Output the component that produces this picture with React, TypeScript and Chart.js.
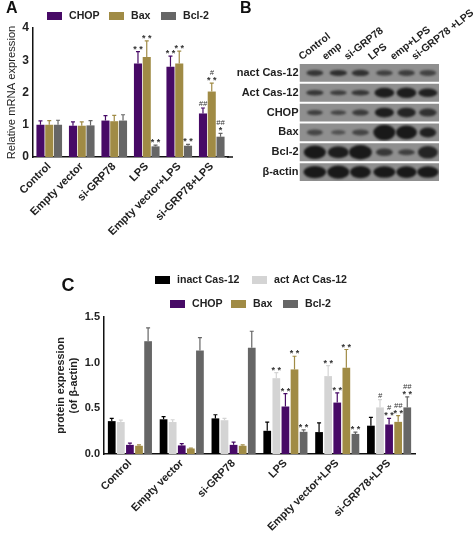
import React, { useEffect, useRef } from "react";
import { Chart, registerables } from "chart.js";

Chart.register(...registerables);

const FONT = "'Liberation Sans', Arial, sans-serif";
const PURPLE = "#470a66";
const GOLD = "#a08b45";
const GREY = "#666666";
const BLACK = "#000000";
const LIGHT = "#d4d4d4";

// Panel A
const groupsA = ["Control", "Empty vector", "si-GRP78", "LPS", "Empty vector+LPS", "si-GRP78+LPS"];
const chopA = [1.0, 0.97, 1.13, 2.9, 2.8, 1.35];
const baxA = [1.0, 0.97, 1.11, 3.1, 2.9, 2.03];
const bcl2A = [1.0, 0.98, 1.13, 0.33, 0.35, 0.63];
const chopAErr = [0.12, 0.12, 0.15, 0.37, 0.33, 0.17];
const baxAErr = [0.13, 0.12, 0.18, 0.5, 0.38, 0.26];
const bcl2AErr = [0.14, 0.15, 0.18, 0.04, 0.04, 0.1];
const chopAMarks = ["", "", "", "* *", "* *", "##"];
const baxAMarks = ["", "", "", "* *", "* *", "* *|#"];
const bcl2AMarks = ["", "", "", "* *", "* *", "*|##"];
const ticksA = [0, 1, 2, 3, 4];

// Panel B
const lanesB = ["Control", "emp", "si-GRP78", "LPS", "emp+LPS", "si-GRP78 +LPS"];
const rowsB = ["inact Cas-12", "Act Cas-12", "CHOP", "Bax", "Bcl-2", "β-actin"];
const laneCentres = [0.66, 1.67, 2.62, 3.65, 4.6, 5.52];
const bandDark = [
  [0.62, 0.72, 0.68, 0.5, 0.52, 0.46],
  [0.6, 0.52, 0.62, 0.95, 0.95, 0.9],
  [0.5, 0.42, 0.55, 0.95, 0.85, 0.68],
  [0.4, 0.25, 0.42, 1, 1, 0.9],
  [1, 0.95, 1, 0.6, 0.5, 0.85],
  [1, 1, 1, 1, 1, 1],
];
const bandThick = [
  [0.3, 0.3, 0.32, 0.28, 0.3, 0.3],
  [0.28, 0.24, 0.28, 0.5, 0.54, 0.44],
  [0.26, 0.24, 0.3, 0.5, 0.5, 0.4],
  [0.3, 0.24, 0.3, 0.78, 0.7, 0.5],
  [0.68, 0.6, 0.72, 0.38, 0.3, 0.64],
  [0.62, 0.66, 0.62, 0.58, 0.6, 0.58],
];
const bandWide = [
  [0.72, 0.75, 0.75, 0.72, 0.72, 0.72],
  [0.75, 0.72, 0.78, 0.85, 0.85, 0.82],
  [0.68, 0.68, 0.72, 0.82, 0.8, 0.76],
  [0.68, 0.62, 0.72, 0.95, 0.9, 0.72],
  [0.95, 0.9, 0.98, 0.72, 0.72, 0.85],
  [0.98, 0.95, 0.9, 0.95, 0.88, 0.92],
];

// Panel C
const groupsC = ["Control", "Empty vector", "si-GRP78", "LPS", "Empty vector+LPS", "si-GRP78+LPS"];
const inactC = [0.36, 0.38, 0.39, 0.254, 0.24, 0.31];
const actC = [0.35, 0.35, 0.37, 0.83, 0.853, 0.51];
const chopC = [0.1, 0.094, 0.1, 0.52, 0.563, 0.323];
const baxC = [0.09, 0.06, 0.09, 0.926, 0.944, 0.352];
const bcl2C = [1.235, 1.133, 1.162, 0.243, 0.22, 0.51];
const inactCErr = [0.03, 0.03, 0.04, 0.095, 0.1, 0.09];
const actCErr = [0.02, 0.025, 0.02, 0.06, 0.115, 0.085];
const chopCErr = [0.02, 0.02, 0.03, 0.14, 0.107, 0.067];
const baxCErr = [0.01, 0.005, 0.01, 0.144, 0.2, 0.068];
const bcl2CErr = [0.145, 0.142, 0.182, 0.022, 0.02, 0.115];
const inactCMarks = ["", "", "", "", "", ""];
const actCMarks = ["", "", "", "* *", "* *", "#"];
const chopCMarks = ["", "", "", "* *", "* *", "* *|#"];
const baxCMarks = ["", "", "", "* *", "* *", "* *|##"];
const bcl2CMarks = ["", "", "", "* *", "* *", "* *|##"];
const ticksC = [0, 0.5, 1, 1.5];

const rowLegend = {
  id: "rowLegend",
  afterDraw(chart: any, _a: any, opts: any) {
    const ctx = chart.ctx;
    ctx.save();
    ctx.font = `bold ${opts.size}px ${FONT}`;
    ctx.textBaseline = "middle";
    ctx.textAlign = "left";
    for (const it of opts.items) {
      const ds = chart.data.datasets[it.index];
      ctx.fillStyle = ds.backgroundColor;
      ctx.fillRect(it.x, it.y - 4, 15, 8);
      ctx.fillStyle = "#222";
      ctx.fillText(ds.label, it.x + 22, it.y);
    }
    ctx.restore();
  },
};

const errorMarks = {
  id: "errorMarks",
  afterDatasetsDraw(chart: any, _a: any, opts: any) {
    const ctx = chart.ctx;
    const y = chart.scales.y;
    chart.data.datasets.forEach((ds: any, i: number) => {
      const meta = chart.getDatasetMeta(i);
      meta.data.forEach((bar: any, j: number) => {
        const x = bar.x;
        const top = y.getPixelForValue(ds.data[j] + ds.errors[j]);
        const base = y.getPixelForValue(ds.data[j]);
        ctx.save();
        ctx.strokeStyle = ds.backgroundColor;
        ctx.lineWidth = 1.2;
        ctx.beginPath();
        ctx.moveTo(x, base);
        ctx.lineTo(x, top);
        ctx.moveTo(x - 2, top);
        ctx.lineTo(x + 2, top);
        ctx.stroke();
        const mark = ds.marks[j];
        if (mark) {
          ctx.fillStyle = "#333";
          ctx.textAlign = "center";
          ctx.textBaseline = "alphabetic";
          const py = top + opts.gap;
          mark.split("|").forEach((m: string, k: number) => {
            const star = m.includes("*");
            ctx.font = `${star ? "bold 9" : "italic 7.5"}px ${FONT}`;
            ctx.fillText(m, x, star ? py + 2 : k === 0 ? py : py - 6);
          });
        }
        ctx.restore();
      });
    });
  },
};

const letter = {
  id: "letter",
  afterDraw(chart: any, _a: any, opts: any) {
    const ctx = chart.ctx;
    ctx.save();
    ctx.font = `bold ${opts.size}px ${FONT}`;
    ctx.fillStyle = "#111";
    ctx.textBaseline = "alphabetic";
    ctx.textAlign = "left";
    ctx.fillText(opts.text, opts.x, opts.y);
    ctx.restore();
  },
};

const axisRun = {
  id: "axisRun",
  afterDatasetsDraw(chart: any, _a: any, opts: any) {
    const { ctx, chartArea } = chart;
    ctx.save();
    ctx.strokeStyle = "#111";
    ctx.lineWidth = 1.5;
    ctx.beginPath();
    ctx.moveTo(chartArea.right - 1, chartArea.bottom);
    ctx.lineTo(chartArea.right + opts.extra, chartArea.bottom);
    ctx.stroke();
    ctx.restore();
  },
};

const blots = {
  id: "blots",
  afterDatasetsDraw(chart: any) {
    const { ctx } = chart;
    const x = chart.scales.x;
    const y = chart.scales.y;
    ctx.save();
    rowsB.forEach((_r, r) => {
      const cy = y.getPixelForValue(r);
      const half = y.getPixelForValue(r + 0.5) - cy;
      const hw = half * 0.9;
      ctx.save();
      ctx.beginPath();
      ctx.rect(chart.chartArea.left, cy - hw, chart.chartArea.width, hw * 2);
      ctx.clip();
      laneCentres.forEach((c, l) => {
        const cx = x.getPixelForValue(c);
        const rx = (x.getPixelForValue(c + bandWide[r][l]) - cx) / 2;
        const ry = half * bandThick[r][l];
        const d = bandDark[r][l];
        const shade = Math.round(100 - 75 * d);
        ctx.filter = "blur(1.2px)";
        ctx.fillStyle = `rgb(${shade},${shade},${shade})`;
        ctx.beginPath();
        ctx.ellipse(cx, cy, rx, ry, 0, 0, Math.PI * 2);
        ctx.fill();
      });
      ctx.restore();
    });
    ctx.restore();
  },
};

function useChart(make: (c: HTMLCanvasElement) => Chart) {
  const ref = useRef<HTMLCanvasElement>(null);
  useEffect(() => {
    const chart = make(ref.current!);
    return () => chart.destroy();
  }, []);
  return ref;
}

const barSet = (label: string, data: number[], errors: number[], marks: string[], color: string, extra: any) => ({
  label,
  data,
  errors,
  marks,
  backgroundColor: color,
  ...extra,
});

function chartA(canvas: HTMLCanvasElement) {
  const shape = { barPercentage: 0.92, categoryPercentage: 0.81 };
  return new Chart(canvas, {
    type: "bar",
    data: {
      labels: groupsA,
      datasets: [
        barSet("CHOP", chopA, chopAErr, chopAMarks, PURPLE, shape),
        barSet("Bax", baxA, baxAErr, baxAMarks, GOLD, shape),
        barSet("Bcl-2", bcl2A, bcl2AErr, bcl2AMarks, GREY, shape),
      ] as any,
    },
    plugins: [rowLegend, errorMarks, letter, axisRun],
    options: {
      animation: false,
      responsive: false,
      layout: { padding: { top: 28, right: 9, left: 5, bottom: 0 } },
      plugins: {
        legend: { display: false },
        tooltip: { enabled: false },
        rowLegend: {
          size: 10.6,
          items: [
            { index: 0, x: 47, y: 16 },
            { index: 1, x: 109, y: 16 },
            { index: 2, x: 161, y: 16 },
          ],
        },
        errorMarks: { gap: -2 },
        letter: { text: "A", size: 16, x: 6, y: 13 },
        axisRun: { extra: 5 },
      } as any,
      scales: {
        x: {
          afterFit: (s: any) => { s.height = 240 - 157; },
          grid: { display: false, drawTicks: true, tickLength: 3, tickColor: "rgba(0,0,0,0)" },
          border: { color: "#111", width: 1.5 },
          ticks: {
            autoSkip: false,
            minRotation: 45,
            maxRotation: 45,
            padding: 0,
            color: "#222",
            font: { family: FONT, size: 11, weight: "bold" },
          },
        },
        y: {
          min: 0,
          max: 4,
          afterFit: (s: any) => { s.width = 28; },
          afterBuildTicks: (s: any) => { s.ticks = ticksA.map((value) => ({ value })); },
          grid: { display: false, drawTicks: true, tickLength: 4, tickColor: "#111", tickWidth: 1.2 },
          border: { color: "#111", width: 1.5 },
          title: {
            display: true,
            text: "Relative mRNA expression",
            color: "#222",
            padding: { top: 0, bottom: 1 },
            font: { family: FONT, size: 11.2 },
          },
          ticks: { padding: 0, color: "#222", font: { family: FONT, size: 12, weight: "bold" } },
        },
      },
    },
  } as any);
}

function chartB(canvas: HTMLCanvasElement) {
  return new Chart(canvas, {
    type: "bar",
    data: {
      labels: rowsB,
      datasets: [
        {
          label: "strip",
          data: rowsB.map(() => [0, 6]),
          backgroundColor: "#8f8f8f",
          barPercentage: 1,
          categoryPercentage: 0.9,
        },
      ],
    },
    plugins: [blots, letter],
    options: {
      animation: false,
      responsive: false,
      indexAxis: "y",
      layout: { padding: { right: 35, top: 0, left: 0, bottom: 18 } },
      plugins: {
        legend: { display: false },
        tooltip: { enabled: false },
        letter: { text: "B", size: 16, x: 3, y: 13 },
      } as any,
      scales: {
        x: {
          position: "top",
          min: 0,
          max: 6,
          afterFit: (s: any) => { s.height = 63; s.paddingLeft = 0; s.paddingRight = 0; },
          afterBuildTicks: (s: any) => { s.ticks = laneCentres.map((value) => ({ value })); },
          grid: { display: false, drawTicks: false },
          border: { display: false },
          ticks: {
            autoSkip: false,
            minRotation: 38,
            maxRotation: 38,
            labelOffset: -7,
            padding: 0,
            color: "#222",
            font: { family: FONT, size: 10.4, weight: "bold" },
            callback: (v: number) => lanesB[laneCentres.indexOf(v)],
          },
        },
        y: {
          afterFit: (s: any) => { s.width = 62.5; s.paddingTop = 0; s.paddingBottom = 0; },
          grid: { display: false, drawTicks: false },
          border: { display: false },
          ticks: {
            autoSkip: false,
            padding: 1,
            color: "#222",
            font: { family: FONT, size: 11, weight: "bold" },
          },
        },
      },
    },
  } as any);
}

function chartC(canvas: HTMLCanvasElement) {
  const shape = { barPercentage: 0.85, categoryPercentage: 0.877 };
  return new Chart(canvas, {
    type: "bar",
    data: {
      labels: groupsC,
      datasets: [
        barSet("inact Cas-12", inactC, inactCErr, inactCMarks, BLACK, shape),
        barSet("act Act Cas-12", actC, actCErr, actCMarks, LIGHT, shape),
        barSet("CHOP", chopC, chopCErr, chopCMarks, PURPLE, shape),
        barSet("Bax", baxC, baxCErr, baxCMarks, GOLD, shape),
        barSet("Bcl-2", bcl2C, bcl2CErr, bcl2CMarks, GREY, shape),
      ] as any,
    },
    plugins: [rowLegend, errorMarks, letter],
    options: {
      animation: false,
      responsive: false,
      layout: { padding: { top: 57, right: 59, left: 55, bottom: 0 } },
      plugins: {
        legend: { display: false },
        tooltip: { enabled: false },
        rowLegend: {
          size: 10.6,
          items: [
            { index: 0, x: 155, y: 20 },
            { index: 1, x: 252, y: 20 },
            { index: 2, x: 170, y: 44 },
            { index: 3, x: 231, y: 44 },
            { index: 4, x: 283, y: 44 },
          ],
        },
        errorMarks: { gap: -2 },
        letter: { text: "C", size: 18, x: 61.5, y: 31 },
      } as any,
      scales: {
        x: {
          afterFit: (s: any) => { s.height = 536 - 454; },
          grid: { display: false, drawTicks: true, tickLength: 3, tickColor: "#111", tickWidth: 1.2 },
          border: { color: "#111", width: 1.5 },
          ticks: {
            autoSkip: false,
            minRotation: 45,
            maxRotation: 45,
            padding: 0,
            color: "#222",
            font: { family: FONT, size: 10.8, weight: "bold" },
          },
        },
        y: {
          min: 0,
          max: 1.5,
          afterFit: (s: any) => { s.width = 49; },
          afterBuildTicks: (s: any) => { s.ticks = ticksC.map((value) => ({ value })); },
          grid: { display: false, drawTicks: true, tickLength: 4, tickColor: "#111", tickWidth: 1.2 },
          border: { color: "#111", width: 1.5 },
          title: {
            display: true,
            text: ["protein expression", "(of β-actin)"],
            color: "#222",
            padding: { top: 0, bottom: 0 },
            font: { family: FONT, size: 10.8, weight: "bold", lineHeight: 1.2 },
          },
          ticks: {
            padding: 0,
            color: "#222",
            font: { family: FONT, size: 11, weight: "bold" },
            callback: (v: number) => v.toFixed(1),
          },
        },
      },
    },
  } as any);
}

export default function App() {
  const a = useChart(chartA);
  const b = useChart(chartB);
  const c = useChart(chartC);
  return (
    <div style={{ position: "fixed", left: 0, top: 0, width: 474, height: 536, background: "#fff", overflow: "hidden" }}>
      <canvas ref={a} width={237} height={240} style={{ position: "absolute", left: 0, top: 0, width: 237, height: 240 }} />
      <canvas ref={b} width={237} height={200} style={{ position: "absolute", left: 237, top: 0, width: 237, height: 200 }} />
      <canvas ref={c} width={474} height={276} style={{ position: "absolute", left: 0, top: 260, width: 474, height: 276 }} />
    </div>
  );
}
